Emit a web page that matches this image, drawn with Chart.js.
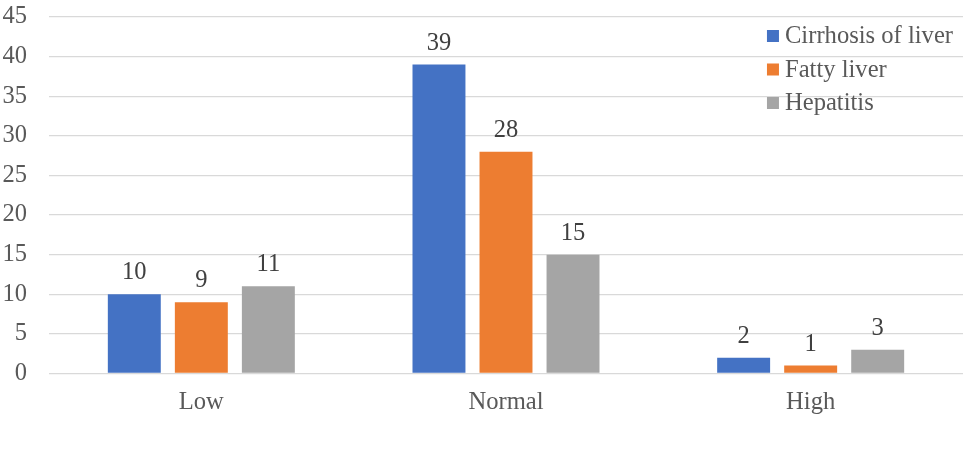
<!DOCTYPE html>
<html>
<head>
<meta charset="utf-8">
<script src="https://cdn.jsdelivr.net/npm/chart.js@4.4.0/dist/chart.umd.min.js"></script>
<style>
html,body{margin:0;padding:0;background:#fff;}
#wrap{width:975px;height:463px;}
</style>
</head>
<body>
<div id="wrap"><canvas id="c"></canvas></div>
<script>
const categories = ["Low", "Normal", "High"];
const cirrhosis = [10, 39, 2];
const fatty = [9, 28, 1];
const hepatitis = [11, 15, 3];
const seriesNames = ["Cirrhosis of liver", "Fatty liver", "Hepatitis"];
const yMax = 45;
const yStep = 5;

const FONT = "'Liberation Serif', 'Times New Roman', serif";

const valueLabels = {
  id: 'valueLabels',
  afterDatasetsDraw(chart) {
    const ctx = chart.ctx;
    ctx.save();
    ctx.font = "24.5px " + FONT;
    ctx.fillStyle = "#404040";
    ctx.textAlign = "center";
    ctx.textBaseline = "alphabetic";
    chart.data.datasets.forEach((ds, i) => {
      const meta = chart.getDatasetMeta(i);
      meta.data.forEach((bar, j) => {
        ctx.fillText(String(ds.data[j]), bar.x, bar.y - 15);
      });
    });
    ctx.restore();
  }
};

const innerLegend = {
  id: 'innerLegend',
  afterDraw(chart) {
    const ctx = chart.ctx;
    const area = chart.chartArea;
    ctx.save();
    ctx.font = "24.6px " + FONT;
    let maxW = 0;
    chart.data.datasets.forEach(ds => { maxW = Math.max(maxW, ctx.measureText(ds.label).width); });
    const box = 12, gap = 6;
    const x0 = area.right - 10 - maxW - gap - box;
    ctx.textBaseline = "middle";
    ctx.textAlign = "left";
    chart.data.datasets.forEach((ds, i) => {
      const cy = area.top + 19 + i * 33.5;
      ctx.fillStyle = ds.backgroundColor;
      ctx.fillRect(x0, cy - 6, box, box);
      ctx.fillStyle = "#595959";
      ctx.fillText(ds.label, x0 + box + gap, cy + 1);
    });
    ctx.restore();
  }
};

new Chart(document.getElementById('c'), {
  type: 'bar',
  data: {
    labels: categories,
    datasets: [
      { label: seriesNames[0], data: cirrhosis, backgroundColor: "#4472C4" },
      { label: seriesNames[1], data: fatty, backgroundColor: "#ED7D31" },
      { label: seriesNames[2], data: hepatitis, backgroundColor: "#A5A5A5" }
    ]
  },
  options: {
    responsive: true,
    maintainAspectRatio: false,
    animation: false,
    devicePixelRatio: 1,
    layout: { padding: { top: 0, right: 12, bottom: 32, left: 3 } },
    datasets: { bar: { categoryPercentage: 0.66, barPercentage: 0.79 } },
    plugins: { legend: { display: false }, tooltip: { enabled: false } },
    scales: {
      x: {
        grid: { display: false, drawTicks: false },
        border: { display: false },
        ticks: { color: "#595959", font: { family: FONT, size: 24.6 }, padding: 14 }
      },
      y: {
        min: 0, max: yMax,
        afterFit(scale) { scale.width = 46; scale.paddingTop = 17; scale.paddingBottom = 0; },
        grid: { color: "#d9d9d9", lineWidth: 1.3, drawTicks: false },
        border: { display: false },
        ticks: { stepSize: yStep, color: "#595959", font: { family: FONT, size: 24.5 }, padding: 22 }
      }
    }
  },
  plugins: [valueLabels, innerLegend]
});
</script>
</body>
</html>
